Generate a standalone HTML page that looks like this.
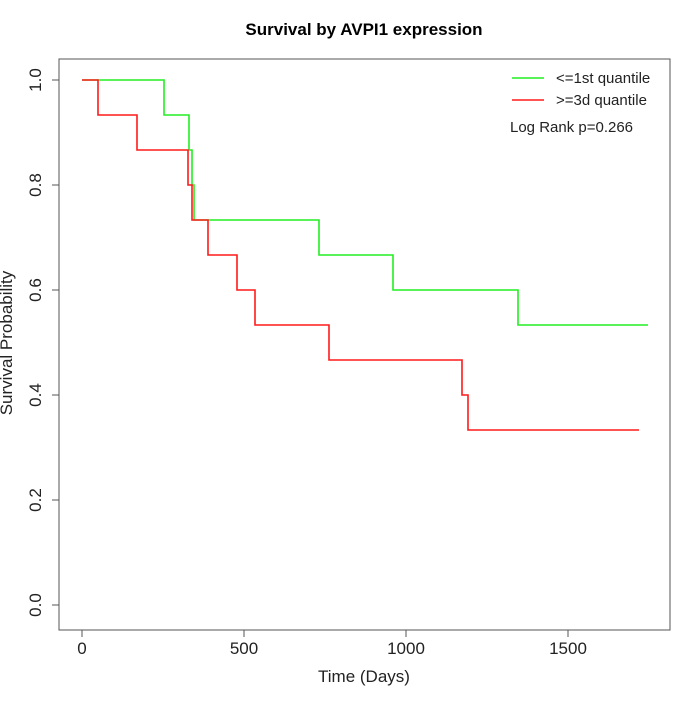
<!DOCTYPE html>
<html><head><style>body{margin:0;background:#fff}</style></head><body>
<svg width="700" height="700" xmlns="http://www.w3.org/2000/svg" font-family="Liberation Sans, sans-serif">
<rect width="700" height="700" fill="#fff"/>
<text x="364" y="35" font-size="17" font-weight="bold" text-anchor="middle">Survival by AVPI1 expression</text>
<rect x="59" y="59" width="611" height="571" fill="none" stroke="#555" stroke-width="1"/>
<g stroke="#555" stroke-width="1">
<line x1="82" y1="630" x2="568" y2="630"/>
<line x1="82" y1="630" x2="82" y2="637"/><line x1="244" y1="630" x2="244" y2="637"/><line x1="406" y1="630" x2="406" y2="637"/><line x1="568" y1="630" x2="568" y2="637"/>
<line x1="59" y1="80" x2="59" y2="605"/>
<line x1="52" y1="80" x2="59" y2="80"/><line x1="52" y1="185" x2="59" y2="185"/><line x1="52" y1="290" x2="59" y2="290"/><line x1="52" y1="395" x2="59" y2="395"/><line x1="52" y1="500" x2="59" y2="500"/><line x1="52" y1="605" x2="59" y2="605"/>
</g>
<g font-size="17" text-anchor="middle" fill="#222">
<text x="82" y="654">0</text><text x="244" y="654">500</text><text x="406" y="654">1000</text><text x="568" y="654">1500</text>
<text transform="translate(41,80) rotate(-90)">1.0</text>
<text transform="translate(41,185) rotate(-90)">0.8</text>
<text transform="translate(41,290) rotate(-90)">0.6</text>
<text transform="translate(41,395) rotate(-90)">0.4</text>
<text transform="translate(41,500) rotate(-90)">0.2</text>
<text transform="translate(41,605) rotate(-90)">0.0</text>
<text x="364" y="682">Time (Days)</text>
<text transform="translate(12,343) rotate(-90)">Survival Probability</text>
</g>
<polyline fill="none" stroke="#22ee22" stroke-width="1.6" points="82,80 164,80 164,115 189,115 189,150 192,150 192,185 194,185 194,220 319,220 319,255 393,255 393,290 518,290 518,325 648,325"/>
<polyline fill="none" stroke="#ff1a1a" stroke-width="1.6" points="82,80 98,80 98,115 137,115 137,150 188,150 188,185 192,185 192,220 208,220 208,255 237,255 237,290 255,290 255,325 329,325 329,360 462,360 462,395 468,395 468,430 639,430"/>
<line x1="512" y1="78" x2="544" y2="78" stroke="#22ee22" stroke-width="1.6"/>
<line x1="512" y1="100" x2="544" y2="100" stroke="#ff1a1a" stroke-width="1.6"/>
<g font-size="15" fill="#222">
<text x="556" y="83">&lt;=1st quantile</text>
<text x="556" y="105">&gt;=3d quantile</text>
<text x="510" y="132">Log Rank p=0.266</text>
</g>
</svg>
</body></html>
